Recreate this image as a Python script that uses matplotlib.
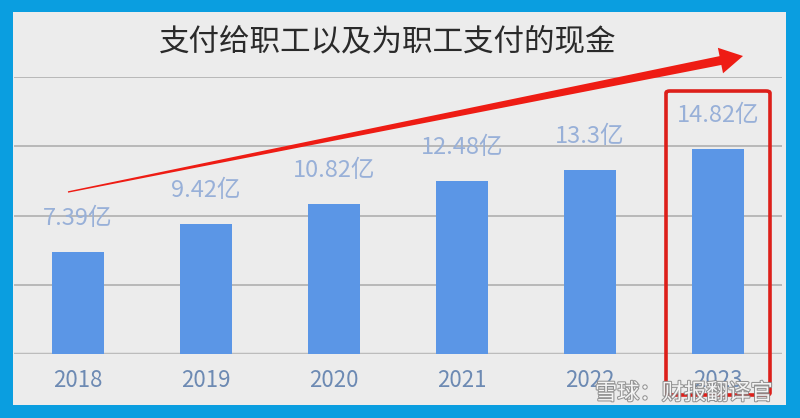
import numpy as np
import matplotlib
matplotlib.use("Agg")
import matplotlib.pyplot as plt
from matplotlib.patches import Rectangle, Polygon, FancyBboxPatch
import matplotlib.patheffects as pe

plt.rcParams['font.family'] = ['Noto Sans CJK SC', 'DejaVu Sans']

# data
years = ["2018", "2019", "2020", "2021", "2022", "2023"]
cash_paid = [7.39, 9.42, 10.82, 12.48, 13.3, 14.82]   # 亿元
value_labels = ["7.39亿", "9.42亿", "10.82亿", "12.48亿", "13.3亿", "14.82亿"]
title = "支付给职工以及为职工支付的现金"
watermark = "雪球：财报翻译官"

W, H = 800, 418
fig = plt.figure(figsize=(W / 100, H / 100), dpi=100)
fig.patch.set_facecolor("#0a9ee0")


def px(x, y):
    """pixel position (from top-left) -> figure fraction"""
    return x / W, 1 - y / H


# light inner panel (below the axes)
fig.patches.append(Rectangle(px(13, 405), 773 / W, 393 / H, transform=fig.transFigure,
                             facecolor="#ececec", edgecolor="none", zorder=-1))

ax = fig.add_axes([14 / W, 1 - 354 / H, 768 / W, 277 / H])
ax.set_facecolor("none")
x = np.arange(len(years))
ax.bar(x, cash_paid, width=0.41, color="#5b96e6", zorder=3)
ax.set_xlim(-0.5, len(years) - 0.5)
ax.set_ylim(0, 20)
ax.set_yticks([0, 5, 10, 15, 20])
ax.yaxis.grid(True, color="#b4b4b4", linewidth=1.3, zorder=1)
ax.set_yticklabels([])
ax.tick_params(axis="y", length=0)
ax.axhline(0, color="#bcbcbc", linewidth=2.5, zorder=2)
for s in ax.spines.values():
    s.set_visible(False)

ax.set_xticks(x)
ax.set_xticklabels(years, fontsize=16, color="#6d8ab3")
ax.tick_params(axis="x", length=0, pad=11)

for xi, v, lab in zip(x, cash_paid, value_labels):
    ax.annotate(lab, (xi, v), xytext=(0, 24), textcoords="offset points",
                ha="center", va="center", fontsize=17, color="#98b0d8", zorder=5)

fig.text(*px(388, 42), title, ha="center", va="center", fontsize=22, color="#2a2a2a")

# tapering red arrow
start = np.array([68.0, 192.0])
tip = np.array([743.0, 56.0])
d = (tip - start) / np.linalg.norm(tip - start)
n = np.array([-d[1], d[0]])
base = tip - 23 * d
pts = [start - 0.7 * n, base - 4.5 * n, base - 13 * n, tip,
       base + 13 * n, base + 4.5 * n, start + 0.7 * n]
fig.patches.append(Polygon([px(*p) for p in pts], closed=True, transform=fig.transFigure,
                           facecolor="#ee1c14", edgecolor="none", zorder=6))

# highlight box around 2023
x0, y0 = px(666, 395)
x1, y1 = px(770, 91)
fig.patches.append(FancyBboxPatch((x0, y0), x1 - x0, y1 - y0, transform=fig.transFigure,
                                  boxstyle="round,pad=0,rounding_size=0.005",
                                  facecolor="none", edgecolor="#dd1f1a", linewidth=2.6, zorder=7))

fig.text(*px(684, 393), watermark, ha="center", va="center", fontsize=16, color="white",
         alpha=0.9, path_effects=[pe.withStroke(linewidth=1.5, foreground="#8a8a8a")], zorder=8)

fig.savefig("out.png", dpi=100, facecolor=fig.get_facecolor())
